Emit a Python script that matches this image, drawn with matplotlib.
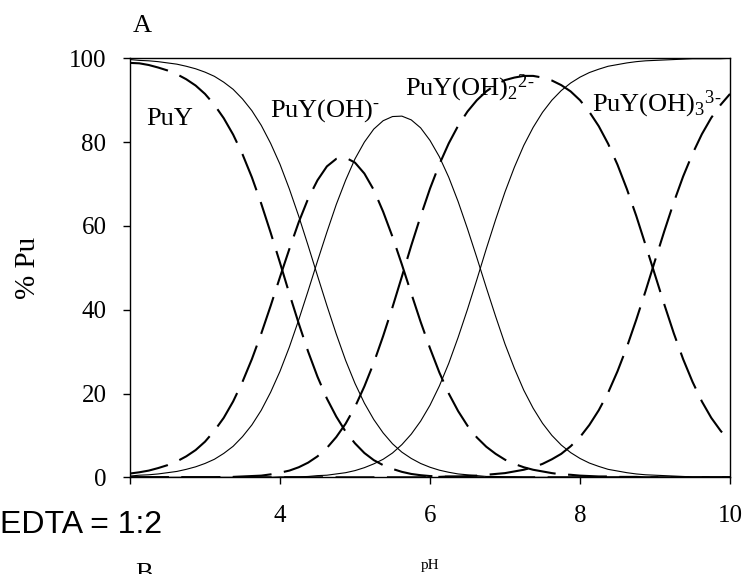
import matplotlib
matplotlib.use("Agg")
import matplotlib.pyplot as plt

plt.rcParams['font.family'] = ['Liberation Serif', 'DejaVu Serif']
plt.rcParams['mathtext.fontset'] = 'custom'
plt.rcParams['mathtext.rm'] = 'Liberation Serif'
plt.rcParams['lines.scale_dashes'] = False

# pH grid (every 0.125 pH unit)
ph = [2.0, 2.125, 2.25, 2.375, 2.5, 2.625, 2.75, 2.875, 3.0, 3.125, 3.25, 3.375,
      3.5, 3.625, 3.75, 3.875, 4.0, 4.125, 4.25, 4.375, 4.5, 4.625, 4.75, 4.875,
      5.0, 5.125, 5.25, 5.375, 5.5, 5.625, 5.75, 5.875, 6.0, 6.125, 6.25, 6.375,
      6.5, 6.625, 6.75, 6.875, 7.0, 7.125, 7.25, 7.375, 7.5, 7.625, 7.75, 7.875,
      8.0, 8.125, 8.25, 8.375, 8.5, 8.625, 8.75, 8.875, 9.0, 9.125, 9.25, 9.375,
      9.5, 9.625, 9.75, 9.875, 10.0]

# solid curves (3 species)
puy_solid = [99.7, 99.5, 99.4, 99.2, 98.9, 98.6, 98.1, 97.5, 96.7, 95.7, 94.3,
             92.6, 90.3, 87.5, 84.0, 79.7, 74.7, 68.8, 62.3, 55.3, 48.1, 41.0,
             34.2, 27.9, 22.4, 17.7, 13.8, 10.6, 8.0, 6.0, 4.5, 3.3, 2.4, 1.7,
             1.2, 0.8, 0.6, 0.4, 0.2, 0.2, 0.1, 0.1] + [0.0] * 23
puyoh_solid = [0.3, 0.5, 0.6, 0.8, 1.1, 1.4, 1.9, 2.5, 3.3, 4.3, 5.7, 7.4, 9.7,
               12.5, 16.0, 20.3, 25.3, 31.1, 37.6, 44.5, 51.6, 58.5, 65.1, 70.9,
               76.0, 80.0, 83.1, 85.1, 86.1, 86.2, 85.3, 83.4, 80.4, 76.5, 71.6,
               65.8, 59.3, 52.4, 45.3, 38.4, 31.8, 26.0, 20.8, 16.5, 12.9, 10.0,
               7.7, 5.9, 4.5, 3.4, 2.6, 1.9, 1.5, 1.1, 0.8, 0.6, 0.5, 0.4, 0.3,
               0.2, 0.1, 0.1, 0.1, 0.1, 0.0]
puyoh2_solid = [0.0] * 16 + [0.1, 0.1, 0.1, 0.2, 0.4, 0.5, 0.8, 1.1, 1.6, 2.3,
                3.2, 4.3, 5.8, 7.8, 10.3, 13.4, 17.2, 21.8, 27.2, 33.4, 40.1,
                47.2, 54.5, 61.5, 68.1, 74.0, 79.2, 83.5, 87.1, 90.0, 92.3, 94.1,
                95.5, 96.6, 97.4, 98.1, 98.5, 98.9, 99.2, 99.4, 99.5, 99.6, 99.7,
                99.8, 99.9, 99.9, 99.9, 99.9, 100.0]

# dashed curves (4 species)
puy_dash = [98.9, 98.8, 98.4, 97.8, 97.1, 96.2, 95.0, 93.5, 91.5, 88.9, 85.7,
            81.8, 77.1, 71.6, 65.3, 58.4, 51.2, 43.8, 36.7, 30.0, 24.0, 18.8,
            14.5, 10.9, 8.1, 5.8, 4.1, 2.9, 2.0, 1.3, 0.8, 0.5, 0.3, 0.2, 0.1,
            0.1] + [0.0] * 29
puyoh_dash = [0.9, 1.2, 1.6, 2.2, 2.9, 3.8, 5.0, 6.5, 8.5, 11.1, 14.2, 18.1,
              22.8, 28.2, 34.3, 40.9, 47.8, 54.5, 60.9, 66.5, 70.9, 74.2, 76.0,
              76.3, 75.1, 72.5, 68.6, 63.4, 57.4, 50.8, 43.9, 37.1, 30.8, 25.0,
              20.0, 15.8, 12.3, 9.5, 7.3, 5.6, 4.2, 3.2, 2.4, 1.8, 1.4, 1.0, 0.7,
              0.6, 0.4, 0.3, 0.2, 0.2, 0.1, 0.1, 0.1, 0.0] + [0.0] * 9
puyoh2_dash = [0.0] * 10 + [0.1, 0.1, 0.2, 0.3, 0.4, 0.7, 1.1, 1.6, 2.4, 3.5,
               5.0, 7.0, 9.6, 12.8, 16.8, 21.7, 27.3, 33.7, 40.6, 47.9, 55.3,
               62.3, 68.9, 74.7, 79.7, 83.9, 87.3, 90.0, 92.1, 93.7, 94.8, 95.4,
               95.8, 95.8, 95.4, 94.7, 93.6, 92.1, 90.0, 87.2, 83.8, 79.6, 74.6,
               68.8, 62.4, 55.4, 48.3, 41.2, 34.4, 28.2, 22.8, 18.1, 14.2, 11.1,
               8.5]
puyoh3_dash = [0.0] * 31 + [0.0, 0.1, 0.1, 0.2, 0.2, 0.3, 0.4, 0.6, 0.8, 1.0,
               1.4, 1.8, 2.4, 3.2, 4.3, 5.6, 7.4, 9.6, 12.5, 16.0, 20.2, 25.3,
               31.1, 37.6, 44.5, 51.7, 58.8, 65.6, 71.8, 77.2, 81.9, 85.8, 88.9,
               91.5]

xticks = [2, 4, 6, 8, 10]
xticklabels = ['', '4', '6', '8', '10']
yticks = [0, 20, 40, 60, 80, 100]

W, H = 746, 574
fig = plt.figure(figsize=(W / 100, H / 100), dpi=100)
ax = fig.add_axes([130 / W, 96.7 / H, 600 / W, 419 / H])

for s in [puy_solid, puyoh_solid, puyoh2_solid]:
    ax.plot(ph, s, color='black', lw=0.8, solid_joinstyle='round')
for s in [puy_dash, puyoh_dash, puyoh2_dash, puyoh3_dash]:
    ax.plot(ph, s, color='black', lw=1.5, linestyle=(0, (28, 9)),
            dash_capstyle='butt', dash_joinstyle='round')

ax.set_xlim(2, 10)
ax.set_ylim(0, 100)
ax.set_xticks(xticks)
ax.set_xticklabels(xticklabels)
ax.set_yticks(yticks)
ax.tick_params(axis='x', direction='out', length=5, width=1, pad=15, labelsize=18)
ax.tick_params(axis='y', direction='out', length=5, width=1, pad=12, labelsize=18)
for sp in ax.spines.values():
    sp.set_linewidth(1.0)
    sp.set_color('black')

lab = dict(fontsize=19, va='baseline', ha='left')
ax.text(2.21, 84.1, 'PuY', **lab)
ax.text(3.87, 86.0, r'PuY(OH)$\mathregular{^{\text{-}}}$', **lab)
ax.text(5.67, 91.2, r'PuY(OH)$\mathregular{_{2}{}^{2\text{-}}}$', **lab)
ax.text(8.16, 87.2, r'PuY(OH)$\mathregular{_{3}{}^{3\text{-}}}$', **lab)

fig.text(28 / W, 1 - 268 / H, '% Pu', rotation=90, fontsize=21,
         ha='center', va='center')
fig.text(133 / W, 1 - 32 / H, 'A', fontsize=19, ha='left', va='baseline')
fig.text(0 / W, 1 - 533 / H, 'EDTA = 1:2', fontsize=23, ha='left',
         va='baseline', family=['Liberation Sans', 'DejaVu Sans'])
fig.text(135 / W, -5.5 / H, 'B', fontsize=19, ha='left', va='baseline')
fig.text(430 / W, 1 - 568.5 / H, 'pH', fontsize=11, ha='center', va='baseline')

fig.savefig('out.png', dpi=100)
